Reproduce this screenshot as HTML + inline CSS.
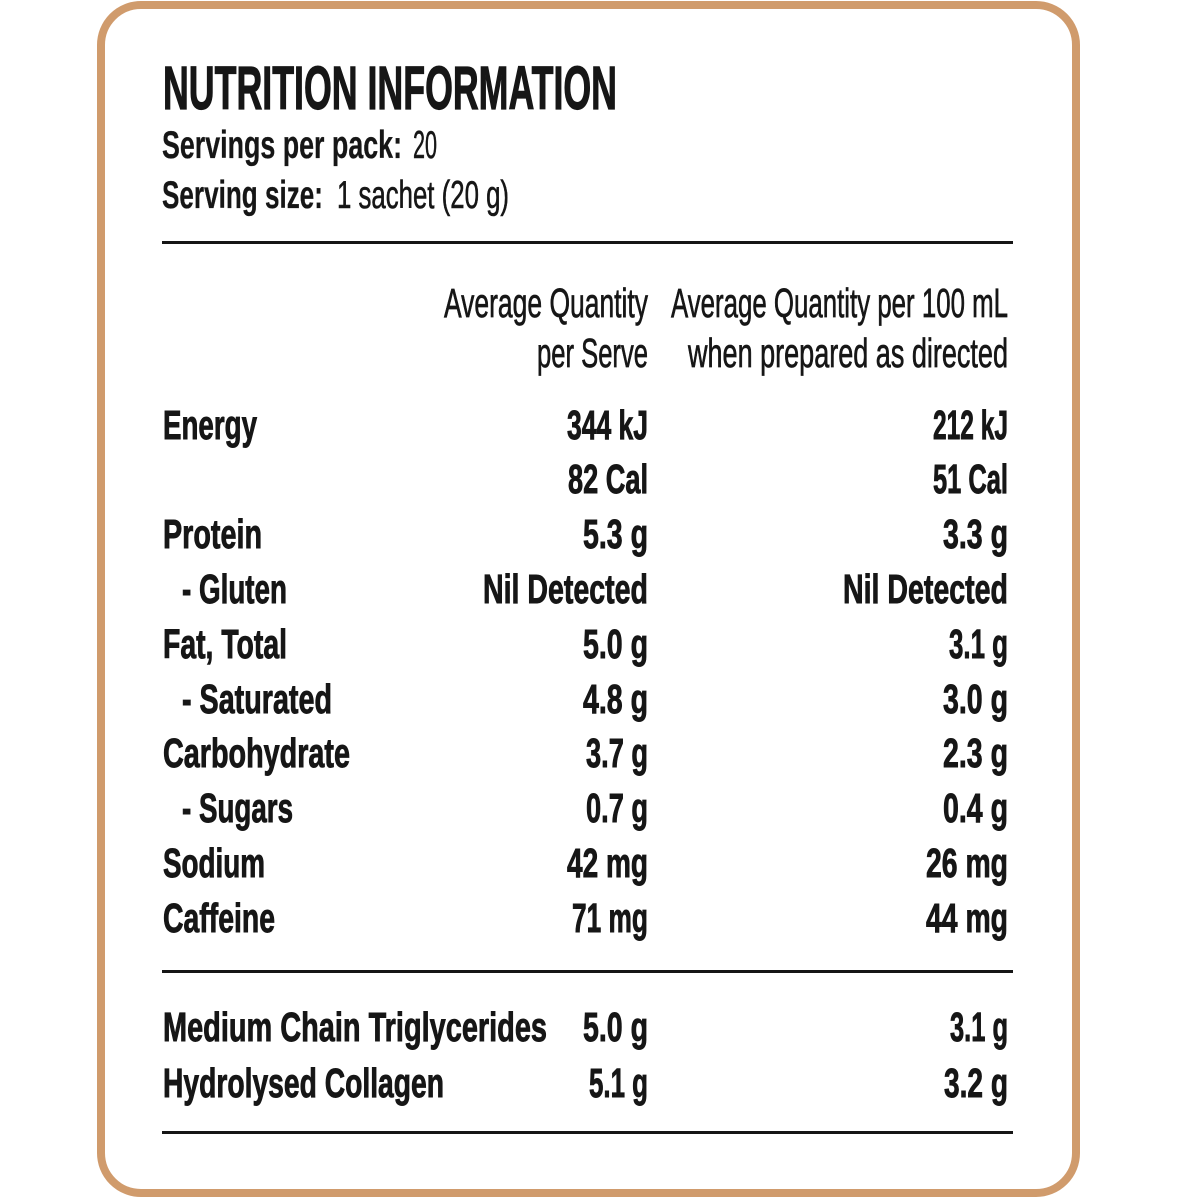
<!DOCTYPE html>
<html>
<head>
<meta charset="utf-8">
<style>
  html,body{margin:0;padding:0;background:#ffffff;}
  svg{display:block;}
  text{font-family:"Liberation Sans", sans-serif; fill:#161616;}
  .b{font-weight:700;}
  .r{font-weight:400;}
</style>
</head>
<body>
<svg width="1200" height="1200" viewBox="0 0 1200 1200" xmlns="http://www.w3.org/2000/svg">
  <rect x="0" y="0" width="1200" height="1200" fill="#ffffff"/>
  <rect x="101" y="5" width="975" height="1188" rx="40" ry="40" fill="#ffffff" stroke="#D09B6C" stroke-width="8"/>

  <!-- Title -->
  <text class="b" x="163" y="109" font-size="61" textLength="454" lengthAdjust="spacingAndGlyphs" stroke="#161616" stroke-width="1.2">NUTRITION INFORMATION</text>
  <text class="b" x="162" y="158" font-size="39" textLength="240" lengthAdjust="spacingAndGlyphs" stroke="#161616" stroke-width="0.3">Servings per pack:</text>
  <text class="r" x="413" y="158" font-size="39" textLength="24" lengthAdjust="spacingAndGlyphs" stroke="#161616" stroke-width="0.6">20</text>
  <text class="b" x="162" y="208" font-size="39" textLength="161" lengthAdjust="spacingAndGlyphs" stroke="#161616" stroke-width="0.3">Serving size:</text>
  <text class="r" x="337" y="208" font-size="39" textLength="172" lengthAdjust="spacingAndGlyphs" stroke="#161616" stroke-width="0.6">1 sachet (20 g)</text>

  <!-- Rules -->
  <rect x="162" y="241" width="851" height="3" fill="#161616"/>
  <rect x="162" y="970" width="851" height="3" fill="#161616"/>
  <rect x="162" y="1131" width="851" height="3" fill="#161616"/>

  <!-- Headers -->
  <g class="r" font-size="41" stroke="#161616" stroke-width="0.7">
    <text x="444" y="317" textLength="204" lengthAdjust="spacingAndGlyphs">Average Quantity</text>
    <text x="537" y="367" textLength="111" lengthAdjust="spacingAndGlyphs">per Serve</text>
    <text x="671" y="317" textLength="337" lengthAdjust="spacingAndGlyphs">Average Quantity per 100 mL</text>
    <text x="688" y="367" textLength="320" lengthAdjust="spacingAndGlyphs">when prepared as directed</text>
  </g>

  <g class="b" font-size="41" stroke="#161616" stroke-width="0.9">
    <!-- Labels -->
    <text x="163" y="439" textLength="94" lengthAdjust="spacingAndGlyphs">Energy</text>
    <text x="163" y="548" textLength="99" lengthAdjust="spacingAndGlyphs">Protein</text>
    <text x="182" y="603" textLength="105" lengthAdjust="spacingAndGlyphs">- Gluten</text>
    <text x="163" y="658" textLength="124" lengthAdjust="spacingAndGlyphs">Fat, Total</text>
    <text x="182" y="713" textLength="150" lengthAdjust="spacingAndGlyphs">- Saturated</text>
    <text x="163" y="767" textLength="187" lengthAdjust="spacingAndGlyphs">Carbohydrate</text>
    <text x="182" y="822" textLength="111" lengthAdjust="spacingAndGlyphs">- Sugars</text>
    <text x="163" y="877" textLength="102" lengthAdjust="spacingAndGlyphs">Sodium</text>
    <text x="163" y="932" textLength="112" lengthAdjust="spacingAndGlyphs">Caffeine</text>
    <text x="163" y="1041" textLength="384" lengthAdjust="spacingAndGlyphs">Medium Chain Triglycerides</text>
    <text x="163" y="1097" textLength="281" lengthAdjust="spacingAndGlyphs">Hydrolysed Collagen</text>

    <!-- Column 1 values -->
    <text x="567" y="439" textLength="81" lengthAdjust="spacingAndGlyphs">344 kJ</text>
    <text x="568" y="493" textLength="80" lengthAdjust="spacingAndGlyphs">82 Cal</text>
    <text x="583" y="548" textLength="65" lengthAdjust="spacingAndGlyphs">5.3 g</text>
    <text x="483" y="603" textLength="165" lengthAdjust="spacingAndGlyphs">Nil Detected</text>
    <text x="583" y="658" textLength="65" lengthAdjust="spacingAndGlyphs">5.0 g</text>
    <text x="583" y="713" textLength="65" lengthAdjust="spacingAndGlyphs">4.8 g</text>
    <text x="586" y="767" textLength="62" lengthAdjust="spacingAndGlyphs">3.7 g</text>
    <text x="586" y="822" textLength="62" lengthAdjust="spacingAndGlyphs">0.7 g</text>
    <text x="567" y="877" textLength="81" lengthAdjust="spacingAndGlyphs">42 mg</text>
    <text x="572" y="932" textLength="76" lengthAdjust="spacingAndGlyphs">71 mg</text>
    <text x="583" y="1041" textLength="65" lengthAdjust="spacingAndGlyphs">5.0 g</text>
    <text x="589" y="1097" textLength="59" lengthAdjust="spacingAndGlyphs">5.1 g</text>

    <!-- Column 2 values -->
    <text x="933" y="439" textLength="75" lengthAdjust="spacingAndGlyphs">212 kJ</text>
    <text x="933" y="493" textLength="75" lengthAdjust="spacingAndGlyphs">51 Cal</text>
    <text x="943" y="548" textLength="65" lengthAdjust="spacingAndGlyphs">3.3 g</text>
    <text x="843" y="603" textLength="165" lengthAdjust="spacingAndGlyphs">Nil Detected</text>
    <text x="949" y="658" textLength="59" lengthAdjust="spacingAndGlyphs">3.1 g</text>
    <text x="943" y="713" textLength="65" lengthAdjust="spacingAndGlyphs">3.0 g</text>
    <text x="943" y="767" textLength="65" lengthAdjust="spacingAndGlyphs">2.3 g</text>
    <text x="943" y="822" textLength="65" lengthAdjust="spacingAndGlyphs">0.4 g</text>
    <text x="926" y="877" textLength="82" lengthAdjust="spacingAndGlyphs">26 mg</text>
    <text x="926" y="932" textLength="82" lengthAdjust="spacingAndGlyphs">44 mg</text>
    <text x="950" y="1041" textLength="58" lengthAdjust="spacingAndGlyphs">3.1 g</text>
    <text x="944" y="1097" textLength="64" lengthAdjust="spacingAndGlyphs">3.2 g</text>
  </g>
</svg>
</body>
</html>
